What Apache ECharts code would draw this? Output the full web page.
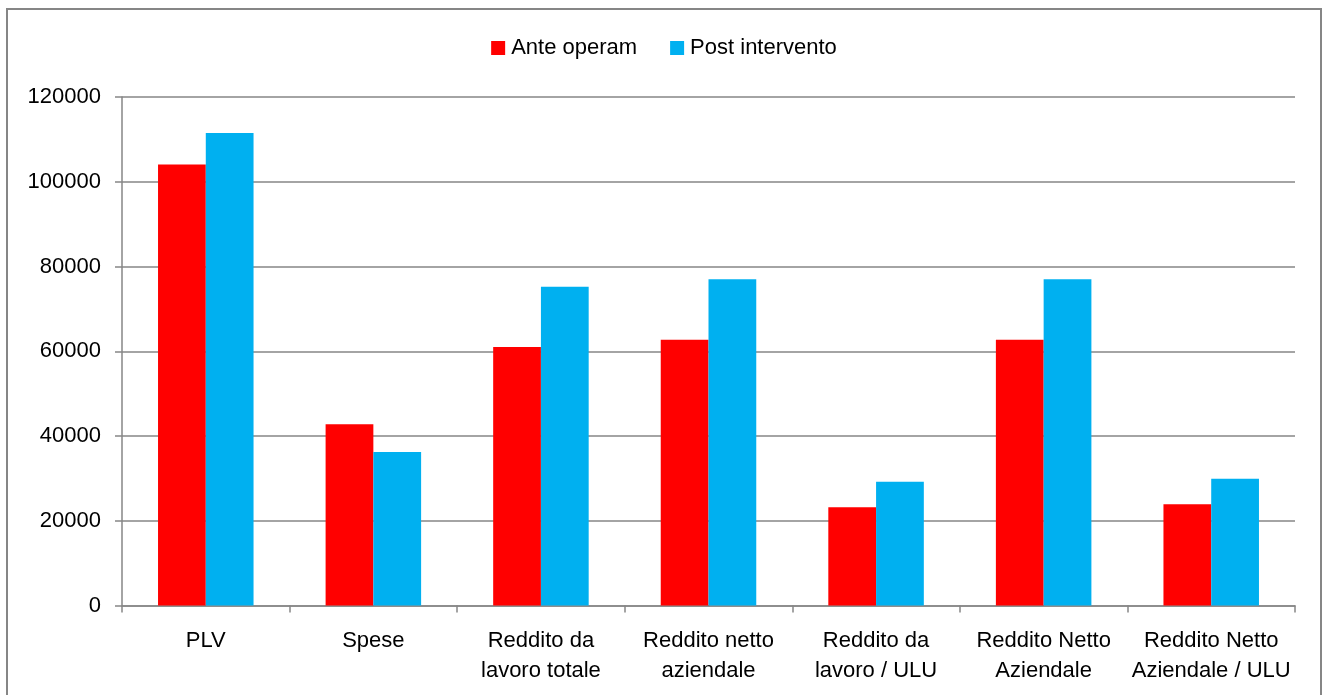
<!DOCTYPE html>
<html>
<head>
<meta charset="utf-8">
<script src="https://cdn.jsdelivr.net/npm/echarts@6/dist/echarts.min.js"></script>
<style>
html,body{margin:0;padding:0;background:#fff;}
#chart{width:1328px;height:695px;}
</style>
</head>
<body>
<div id="chart"></div>
<script>
const categories = [
  'PLV',
  'Spese',
  'Reddito da\nlavoro totale',
  'Reddito netto\naziendale',
  'Reddito da\nlavoro / ULU',
  'Reddito Netto\nAziendale',
  'Reddito Netto\nAziendale / ULU'
];
const anteOperam = [104100, 42800, 61000, 62700, 23200, 62700, 23900];
const postIntervento = [111500, 36200, 75200, 77000, 29200, 77000, 29900];
const yTicks = { min: 0, max: 120000, interval: 20000 };

const FONT = '"Liberation Sans", Arial, sans-serif';
const GRAY = '#868686';

const chart = echarts.init(document.getElementById('chart'), null, { renderer: 'canvas' });
chart.setOption({
  backgroundColor: '#ffffff',
  animation: false,
  textStyle: { fontFamily: FONT, color: '#000' },
  graphic: [{
    type: 'rect',
    shape: { x: 7, y: 9, width: 1314, height: 720 },
    style: { fill: 'none', stroke: GRAY, lineWidth: 2 },
    z: -1
  }],
  legend: {
    top: 32,
    left: 'center',
    itemWidth: 14,
    itemHeight: 14,
    itemGap: 33,
    icon: 'rect',
    textStyle: { fontFamily: FONT, fontSize: 22, color: '#000', padding: [0, 0, 0, 1] },
    data: ['Ante operam', 'Post intervento']
  },
  grid: { left: 122, right: 33, top: 97, bottom: 89.5, containLabel: false },
  xAxis: {
    type: 'category',
    data: categories,
    boundaryGap: true,
    axisLine: { show: true, lineStyle: { color: GRAY, width: 1.5 } },
    axisTick: { show: true, length: 7, lineStyle: { color: GRAY, width: 1.5 } },
    axisLabel: { fontFamily: FONT, fontSize: 22, color: '#000', margin: 20, lineHeight: 30, interval: 0, align: 'center' },
    splitLine: { show: false }
  },
  yAxis: {
    type: 'value',
    min: yTicks.min,
    max: yTicks.max,
    interval: yTicks.interval,
    axisLine: { show: true, lineStyle: { color: GRAY, width: 1.5 } },
    axisTick: { show: true, length: 7, lineStyle: { color: GRAY, width: 1.5 } },
    axisLabel: { fontFamily: FONT, fontSize: 22, color: '#000', margin: 21, formatter: function (v) { return String(v); } },
    splitLine: { show: true, lineStyle: { color: GRAY, width: 1.5 } }
  },
  series: [
    {
      name: 'Ante operam',
      type: 'bar',
      data: anteOperam,
      itemStyle: { color: '#FF0000' },
      barGap: '0%',
      barCategoryGap: '43%'
    },
    {
      name: 'Post intervento',
      type: 'bar',
      data: postIntervento,
      itemStyle: { color: '#00B0F0' },
      barGap: '0%',
      barCategoryGap: '43%'
    }
  ]
});
</script>
</body>
</html>
